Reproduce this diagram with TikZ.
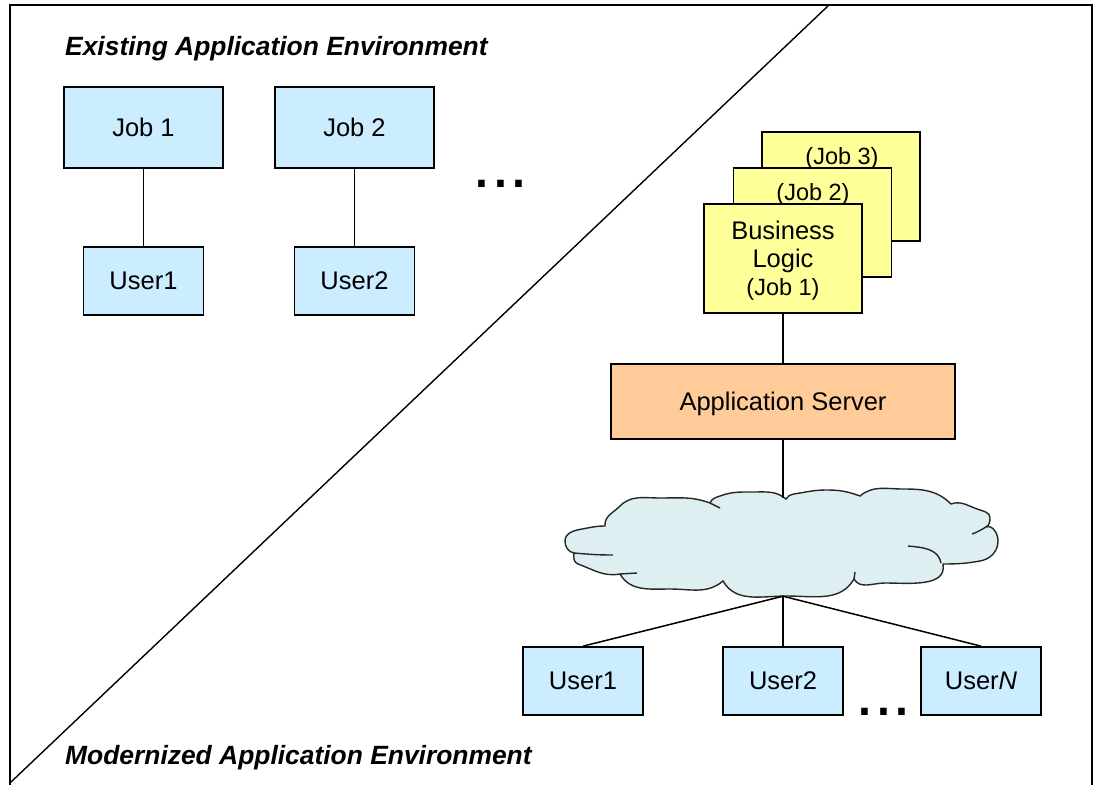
\documentclass[tikz,border=0pt]{standalone}
\usepackage{fontspec}
\setmainfont{Liberation Sans}
\definecolor{jobblue}{RGB}{204,236,255}
\definecolor{logicyellow}{RGB}{255,255,153}
\definecolor{serverorange}{RGB}{255,204,153}
\definecolor{netcyan}{RGB}{221,239,241}
\newcommand\lblfont{\fontsize{25.5}{28}\selectfont}
\newcommand\smlfont{\fontsize{23.5}{28}\selectfont}
\newcommand\ttlfont{\fontsize{26.4}{30}\selectfont\bfseries\itshape}
\newcommand\dotfont{\fontsize{68}{68}\selectfont}
\tikzset{
  box/.style={draw=black, line width=1.7pt, rectangle, inner sep=0pt,
    text depth=0pt, font=\lblfont},
  bluebox/.style={box, fill=jobblue},
  yellowbox/.style={box, fill=logicyellow, minimum width=158pt, minimum height=109pt},
  orangebox/.style={box, fill=serverorange},
  link/.style={draw=black, line width=1.5pt},
  frameline/.style={draw=black, line width=1.4pt},
  cloudline/.style={draw=black!85, line width=1.4pt},
  heading/.style={font=\ttlfont, inner sep=0pt, anchor=base west},
  jobnote/.style={font=\smlfont, inner sep=0pt, anchor=base},
  ellipsis/.style={font=\dotfont, inner sep=0pt, anchor=base},
}
\begin{document}
\begin{tikzpicture}[x=1pt, y=1pt]
\useasboundingbox (0,0) rectangle (1094,-784);
\clip (0,0) rectangle (1094,-784);

% outer frame and the dividing diagonal
\draw[frameline] (10,-800) -- (10,-5) -- (1092,-5) -- (1092,-800);
\coordinate (divtop) at (829,-5);
\coordinate (divbot) at (11,-782);
\draw[frameline] (divtop) -- (divbot);

% ---------------- upper left: existing environment ----------------
\node[heading] (oldtitle) at (65,-56) {Existing Application Environment};

\node[bluebox, minimum width=159pt, minimum height=81pt] (job1) at (143.5,-127.5) {Job 1};
\node[bluebox, minimum width=159pt, minimum height=81pt] (job2) at (354.5,-127.5) {Job 2};
\node[bluebox, minimum width=120pt, minimum height=68pt] (olduser1) at (143.5,-281) {User1};
\node[bluebox, minimum width=120pt, minimum height=68pt] (olduser2) at (354.5,-281) {User2};
\draw[link] (job1) -- (olduser1);
\draw[link] (job2) -- (olduser2);

\node[ellipsis] (oldmore) at (500.5,-187) {...};

% ---------------- lower right: modernized environment ----------------
% stacked business logic boxes, back to front
\node[yellowbox] (logic3) at (841,-186.5) {};
\node[jobnote] (logic3txt) at (842,-164) {(Job 3)};
\node[yellowbox] (logic2) at (812.5,-222.5) {};
\node[jobnote] (logic2txt) at (813,-200) {(Job 2)};
\node[yellowbox] (logic1) at (783,-258.5) {};
\node[font=\lblfont, align=center, inner sep=0pt] (logic1txt) at (783,-261)
  {Business\\Logic\\{\smlfont (Job 1)}};

\node[orangebox, minimum width=344pt, minimum height=75pt] (app) at (783,-401.5) {Application Server};

% network cloud: an anchor node plus the drawn outline
\node[inner sep=0pt, minimum width=433pt, minimum height=98pt] (net) at (783,-547) {};
\draw[cloudline, fill=netcyan]
  (574,-553) to[out=170,in=270] (565,-541)
  to[out=90,in=190] (582,-529) to[out=10,in=180] (605,-526)
  to[out=95,in=225] (620,-506) to[out=45,in=180] (660,-498) to[out=0,in=160] (710,-503)
  to[out=70,in=200] (720,-496) to[out=20,in=180] (753,-492) to[out=0,in=140] (786,-499)
  to[out=60,in=190] (800,-493) to[out=10,in=180] (827,-490) to[out=0,in=160] (860,-496)
  to[out=40,in=180] (903,-489) to[out=0,in=135] (951,-504)
  to[out=20,in=160] (977,-509) to[out=-20,in=90] (990,-518) to[out=270,in=30] (986,-527)
  to[out=20,in=90] (998,-541) to[out=270,in=10] (980,-561) to[out=190,in=0] (943,-564)
  to[out=280,in=0] (885,-583) to[out=180,in=300] (854,-579)
  to[out=240,in=0] (787,-596) to[out=180,in=300] (723,-581)
  to[out=220,in=0] (670,-589) to[out=180,in=300] (620,-574)
  to[out=190,in=340] (578,-564) to[out=160,in=260] cycle;
% short inner strokes of the cloud
\draw[cloudline] (574,-553) to[out=-5,in=180] (613,-555);
\draw[cloudline] (710,-503) -- (720,-508);
\draw[cloudline] (986,-527) to[out=210,in=20] (972,-534);
\draw[cloudline] (908,-546) to[out=-5,in=100] (941,-563);
\draw[cloudline] (854,-579) -- (855,-572);
\draw[cloudline] (620,-574) -- (637,-573);

\node[bluebox, minimum width=120pt, minimum height=68pt] (user1) at (583,-681) {User1};
\node[bluebox, minimum width=120pt, minimum height=68pt] (user2) at (783,-681) {User2};
\node[bluebox, minimum width=120pt, minimum height=68pt] (userN) at (981,-681) {User\textit{N}};
\node[ellipsis] (newmore) at (883.5,-715) {...};

\draw[link] (logic1) -- (app);
\draw[link] (app) -- (net.north);
\draw[link] (net.south) -- (user1.north);
\draw[link] (net.south) -- (user2.north);
\draw[link] (net.south) -- (userN.north);

\node[heading] (newtitle) at (65,-764) {Modernized Application Environment};
\end{tikzpicture}
\end{document}
